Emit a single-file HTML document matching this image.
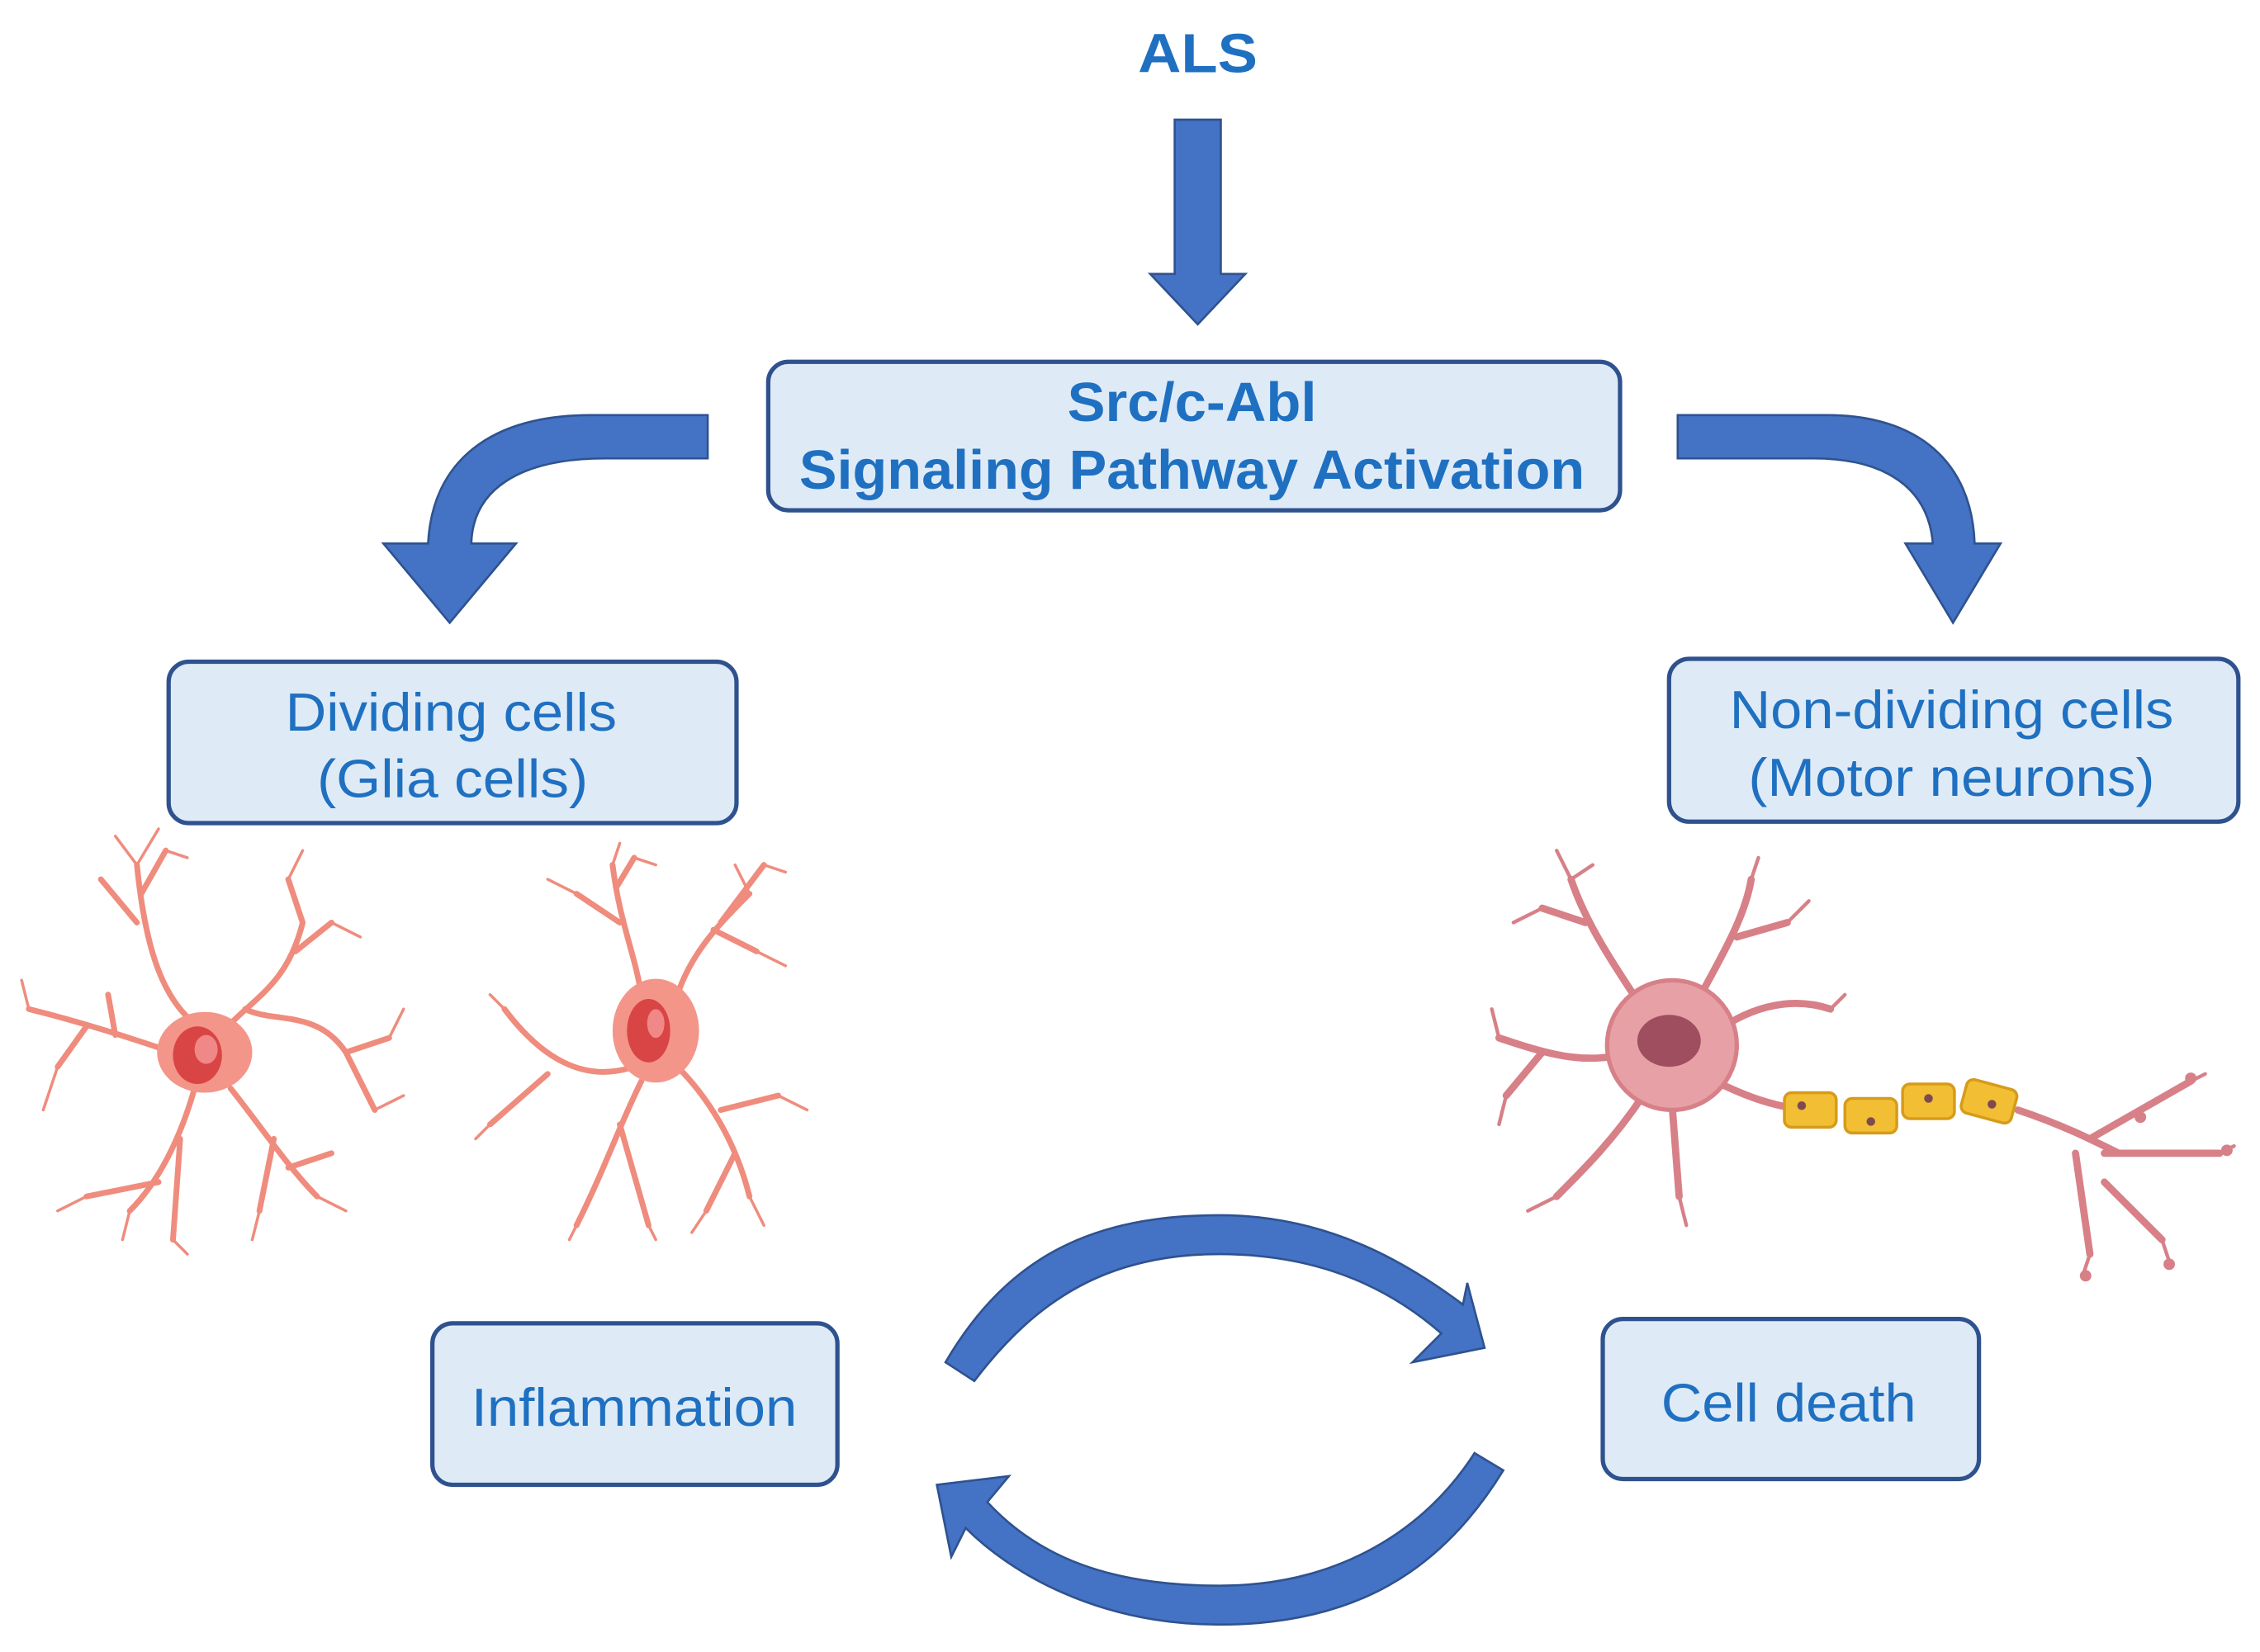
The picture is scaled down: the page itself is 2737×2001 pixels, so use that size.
<!DOCTYPE html>
<html><head><meta charset="utf-8"><style>
html,body{margin:0;padding:0;background:#fff;}
svg{display:block;}
text{font-family:"Liberation Sans",sans-serif;fill:#1F70C1;text-anchor:middle;}
</style></head><body>
<svg width="2737" height="2001" viewBox="0 0 1568 1146" preserveAspectRatio="none" xmlns="http://www.w3.org/2000/svg">
<rect width="1568" height="1146" fill="#fff"/>
<text x="831" y="50" font-size="38" font-weight="bold" textLength="83" lengthAdjust="spacingAndGlyphs">ALS</text>
<!-- down arrow -->
<path d="M815,83 H847 V190 H864 L831,225 L798,190 H815 Z" fill="#4472C4" stroke="#2F528F" stroke-width="1.5"/>
<!-- main box -->
<rect x="533" y="251" width="591" height="103" rx="14" fill="#DEEBF7" stroke="#2F528F" stroke-width="3"/>
<text x="827" y="292" font-size="38" font-weight="bold" textLength="173" lengthAdjust="spacingAndGlyphs">Src/c-Abl</text>
<text x="827" y="339" font-size="38" font-weight="bold" textLength="545" lengthAdjust="spacingAndGlyphs">Signaling Pathway Activation</text>
<!-- left curved arrow -->
<path d="M491,288 V318 H420 C360,318 328,340 327,377 H358 L312,432 L266,377 H297 C300,320 340,288 410,288 Z" fill="#4472C4" stroke="#2F528F" stroke-width="1.5"/>
<!-- right curved arrow -->
<path d="M1164,288 V318 H1258 C1310,318 1338,340 1341,377 H1322 L1355,432 L1388,377 H1370 C1368,320 1330,288 1268,288 Z" fill="#4472C4" stroke="#2F528F" stroke-width="1.5"/>
<!-- boxes -->
<rect x="117" y="459" width="394" height="112" rx="14" fill="#DEEBF7" stroke="#2F528F" stroke-width="3"/>
<text x="313" y="507" font-size="37" textLength="230" lengthAdjust="spacingAndGlyphs">Dividing cells</text>
<text x="314" y="553" font-size="37" textLength="188" lengthAdjust="spacingAndGlyphs">(Glia cells)</text>
<rect x="1158" y="457" width="395" height="113" rx="14" fill="#DEEBF7" stroke="#2F528F" stroke-width="3"/>
<text x="1354" y="505" font-size="37" textLength="308" lengthAdjust="spacingAndGlyphs">Non-dividing cells</text>
<text x="1354" y="552" font-size="37" textLength="282" lengthAdjust="spacingAndGlyphs">(Motor neurons)</text>
<rect x="300" y="918" width="281" height="112" rx="14" fill="#DEEBF7" stroke="#2F528F" stroke-width="3"/>
<text x="440" y="989" font-size="37" textLength="226" lengthAdjust="spacingAndGlyphs">Inflammation</text>
<rect x="1112" y="915" width="261" height="111" rx="14" fill="#DEEBF7" stroke="#2F528F" stroke-width="3"/>
<text x="1241" y="986" font-size="37" textLength="177" lengthAdjust="spacingAndGlyphs">Cell death</text>
<!-- cycle arrows -->
<path d="M656,945 C700,870 760,843 846,843 C920,843 975,875 1015,905 L1018,890 L1030,935 L980,945 L1000,925 C960,890 910,870 846,870 C770,870 720,900 676,958 Z" fill="#4472C4" stroke="#2F528F" stroke-width="1.5"/>
<path d="M1043,1020 C1000,1090 940,1127 846,1127 C760,1127 700,1090 670,1060 L660,1080 L650,1030 L700,1024 L685,1042 C720,1080 770,1100 846,1100 C930,1100 990,1060 1023,1008 Z" fill="#4472C4" stroke="#2F528F" stroke-width="1.5"/>
<!-- glia 1 -->
<g stroke="#EE8070" fill="none" stroke-linecap="round" opacity="0.9">
<g stroke-width="4">
<path d="M135,710 C110,690 100,650 95,600 M95,640 L70,610 M98,620 L115,590"/>
<path d="M120,730 C90,720 60,710 20,700 M60,712 L40,740 M80,718 L75,690"/>
<path d="M160,710 C180,690 200,680 210,640 M205,660 L230,640 M210,640 L200,610 M170,700 C190,710 220,700 240,730 L260,770 M240,730 L270,720"/>
<path d="M135,755 C125,790 110,820 90,840 M110,820 L60,830 M125,790 L120,860"/>
<path d="M160,755 C180,780 200,810 220,830 M200,810 L230,800 M190,790 L180,840"/>
</g>
<g stroke-width="2">
<path d="M95,600 L80,580 M95,600 L110,575 M115,590 L130,595 M40,740 L30,770 M20,700 L15,680 M230,640 L250,650 M200,610 L210,590 M260,770 L280,760 M270,720 L280,700 M60,830 L40,840 M90,840 L85,860 M220,830 L240,840 M180,840 L175,860 M120,860 L130,870"/>
</g>
</g>
<ellipse cx="142" cy="730" rx="33" ry="28" fill="#F4958A"/>
<ellipse cx="137" cy="732" rx="17" ry="20" fill="#D94545"/>
<ellipse cx="143" cy="728" rx="8" ry="10" fill="#F08888"/>
<!-- glia 2 -->
<g stroke="#EE8070" fill="none" stroke-linecap="round" opacity="0.9">
<g stroke-width="4">
<path d="M445,690 C440,660 430,640 425,600 M430,640 L400,620 M428,615 L440,595"/>
<path d="M470,690 C480,660 500,640 520,620 M500,640 L530,600 M495,645 L525,660"/>
<path d="M440,740 C410,750 380,740 350,700 M380,745 L340,780"/>
<path d="M445,750 C430,780 420,810 400,850 M430,780 L450,850"/>
<path d="M470,740 C490,760 510,790 520,830 M500,770 L540,760 M510,800 L490,840"/>
</g>
<g stroke-width="2">
<path d="M400,620 L380,610 M425,600 L430,585 M440,595 L455,600 M530,600 L545,605 M525,660 L545,670 M350,700 L340,690 M340,780 L330,790 M400,850 L395,860 M450,850 L455,860 M540,760 L560,770 M520,830 L530,850 M490,840 L480,855 M520,620 L510,600"/>
</g>
</g>
<ellipse cx="455" cy="715" rx="30" ry="36" fill="#F4958A"/>
<ellipse cx="450" cy="715" rx="15" ry="22" fill="#D94545"/>
<ellipse cx="455" cy="710" rx="6" ry="10" fill="#F08888"/>
<!-- motor neuron -->
<g stroke="#D78088" fill="none" stroke-linecap="round">
<g stroke-width="5">
<path d="M1140,700 C1120,670 1100,640 1090,610 M1100,640 L1070,630"/>
<path d="M1175,700 C1190,670 1210,640 1215,610 M1205,650 L1240,640"/>
<path d="M1130,730 C1100,740 1070,730 1040,720 M1070,730 L1045,760"/>
<path d="M1140,760 C1120,790 1100,810 1080,830 M1160,765 L1165,830"/>
<path d="M1185,720 C1210,700 1240,690 1270,700"/>
<path d="M1190,750 C1210,760 1225,765 1240,768"/>
<path d="M1400,770 C1430,780 1450,790 1470,800 M1450,790 L1520,750 M1460,800 L1540,800 M1440,800 L1450,870 M1460,820 L1500,860"/>
</g>
<g stroke-width="2.5">
<path d="M1090,610 L1080,590 M1090,610 L1105,600 M1070,630 L1050,640 M1215,610 L1220,595 M1240,640 L1255,625 M1040,720 L1035,700 M1045,760 L1040,780 M1080,830 L1060,840 M1165,830 L1170,850 M1270,700 L1280,690 M1520,750 L1530,745 M1540,800 L1550,795 M1450,870 L1445,885 M1500,860 L1505,875"/>
</g>
</g>
<g fill="#D78088"><circle cx="1520" cy="748" r="4"/><circle cx="1545" cy="798" r="4"/><circle cx="1447" cy="885" r="4"/><circle cx="1505" cy="877" r="4"/><circle cx="1485" cy="775" r="4"/></g>
<ellipse cx="1160" cy="725" rx="45" ry="45" fill="#E7A0A5" stroke="#D78088" stroke-width="3"/>
<ellipse cx="1158" cy="722" rx="22" ry="18" fill="#9E4E5E"/>
<g fill="#F2BE33" stroke="#D79B1A" stroke-width="2">
<rect x="1238" y="758" width="36" height="24" rx="5"/>
<rect x="1280" y="762" width="36" height="24" rx="5"/>
<rect x="1320" y="752" width="36" height="24" rx="5"/>
<rect x="1362" y="752" width="36" height="24" rx="5" transform="rotate(15 1380 764)"/>
</g>
<g fill="#7E4A52"><circle cx="1250" cy="767" r="3"/><circle cx="1298" cy="778" r="3"/><circle cx="1338" cy="762" r="3"/><circle cx="1382" cy="766" r="3"/></g>
</svg>
</body></html>
